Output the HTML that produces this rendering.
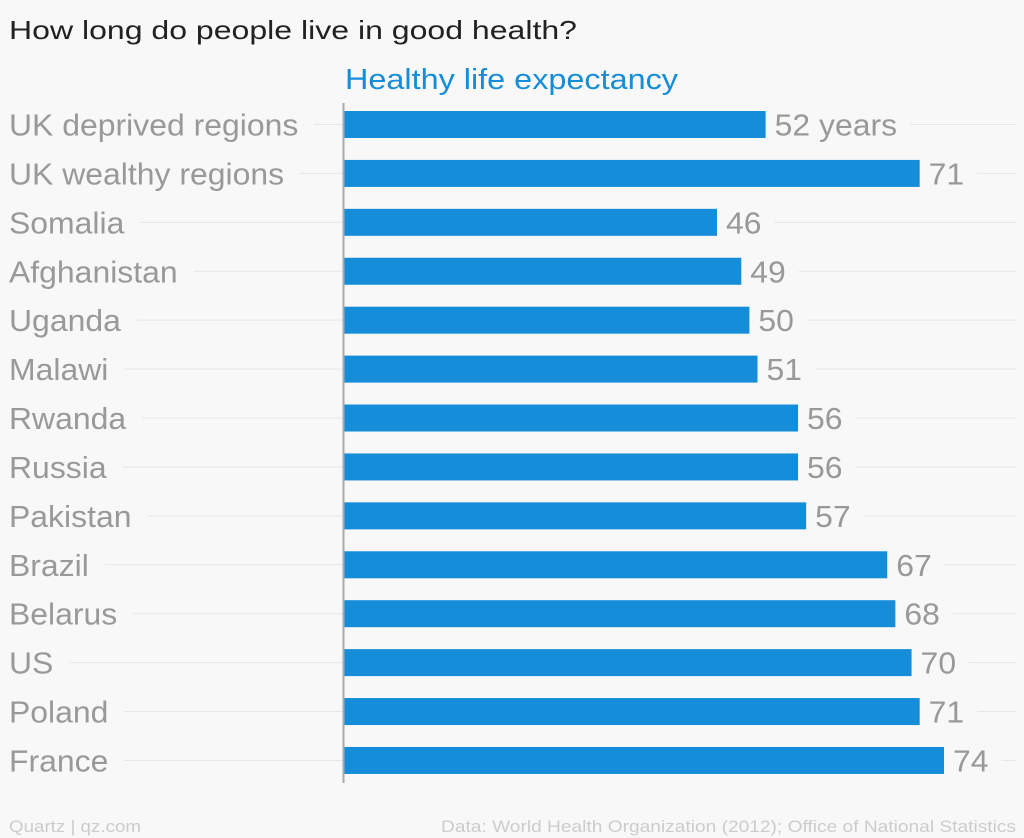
<!DOCTYPE html>
<html><head><meta charset="utf-8"><style>
body{margin:0;background:#f8f8f8;}
svg{display:block;font-family:"Liberation Sans",sans-serif;}
</style></head><body>
<svg id="chart" width="1024" height="838">
<rect width="1024" height="838" fill="#f8f8f8"/>
<text x="9" y="39" font-size="26" fill="#222" textLength="568" lengthAdjust="spacingAndGlyphs">How long do people live in good health?</text>
<text x="345" y="89" font-size="29" fill="#168dd9" textLength="333" lengthAdjust="spacingAndGlyphs">Healthy life expectancy</text>
<g id="grid"></g>
<g id="bars"></g>
<line x1="343.5" y1="103" x2="343.5" y2="783" stroke="#aaa" stroke-width="2"/>
<text x="9" y="832" font-size="17" fill="#ccc" textLength="132" lengthAdjust="spacingAndGlyphs">Quartz | qz.com</text>
<text x="441" y="832" font-size="17" fill="#ccc" textLength="575" lengthAdjust="spacingAndGlyphs">Data: World Health Organization (2012); Office of National Statistics</text>
</svg>
<script>
const categories=["UK deprived regions","UK wealthy regions","Somalia","Afghanistan","Uganda","Malawi","Rwanda","Russia","Pakistan","Brazil","Belarus","US","Poland","France"];
const values=[52,71,46,49,50,51,56,56,57,67,68,70,71,74];
const valueLabels=["52 years","71","46","49","50","51","56","56","57","67","68","70","71","74"];
const NS="http://www.w3.org/2000/svg";
const x0=344, pxPer=600/74;
const xs=v=>x0+v*pxPer;
const ys=i=>124.5+i*48.92;
const bars=document.getElementById('bars'), grid=document.getElementById('grid');
function mk(t,a,p){const e=document.createElementNS(NS,t);for(const k in a)e.setAttribute(k,a[k]);p.appendChild(e);return e;}
categories.forEach((c,i)=>{
  const y=ys(i);
  const lab=mk('text',{x:9,y:y+11,'font-size':31,fill:'#999'},bars);
  lab.textContent=c;
  
  
  const lw=lab.getComputedTextLength()*1.03;
  lab.setAttribute('textLength',lw);
  lab.setAttribute('lengthAdjust','spacingAndGlyphs');
  const r=mk('rect',{x:x0,y:y-13.5,width:xs(values[i])-x0,height:27,fill:'#168dd9'},bars);
  
  
  const vl=mk('text',{x:xs(values[i])+9,y:y+11,'font-size':31,fill:'#999'},bars);
  vl.textContent=valueLabels[i];
  
  
  const vw=vl.getComputedTextLength()*1.03;
  vl.setAttribute('textLength',vw);
  vl.setAttribute('lengthAdjust','spacingAndGlyphs');
  const le=9+lw+16;
  const g1=mk('line',{x1:le,y1:y,x2:343,y2:y,stroke:'#e6e6e6','stroke-width':1},grid);
  
  
  const re=xs(values[i])+9+vw+13;
  const g2=mk('line',{x1:re,y1:y,x2:1016,y2:y,stroke:'#e6e6e6','stroke-width':1},grid);
  
  
});
</script>
</body></html>
